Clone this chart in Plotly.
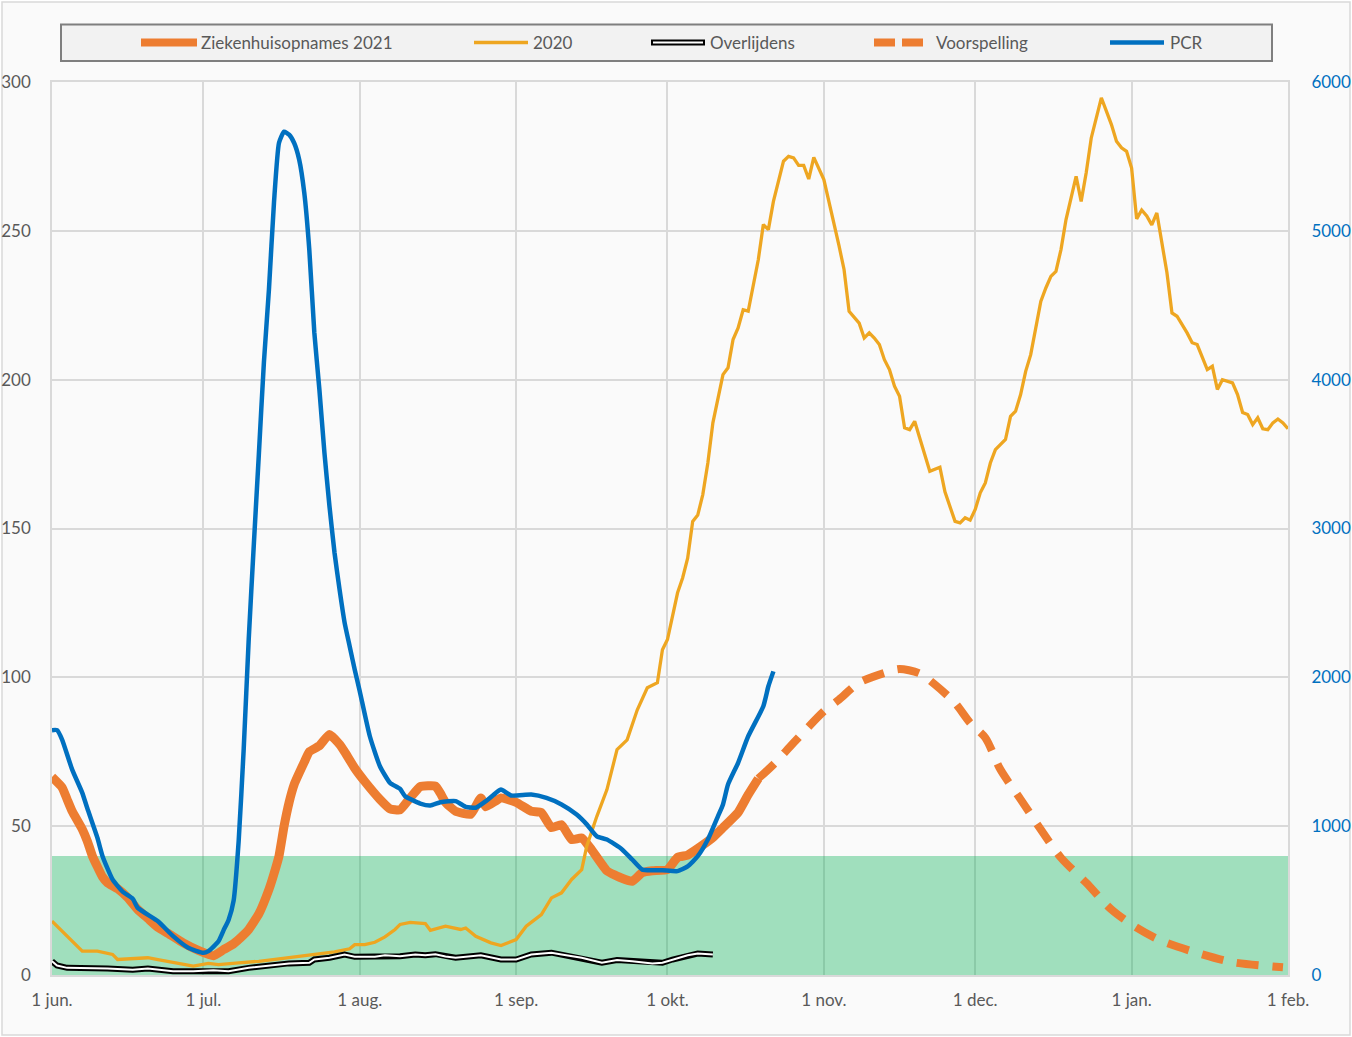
import pandas as pd
import plotly.graph_objects as go

# ---------------- data ----------------
START = pd.Timestamp("2021-06-01")
END = pd.Timestamp("2022-02-01")

tick_dates = ["2021-06-01", "2021-07-01", "2021-08-01", "2021-09-01", "2021-10-01",
              "2021-11-01", "2021-12-01", "2022-01-01", "2022-02-01"]
tick_labels = ["1 jun.", "1 jul.", "1 aug.", "1 sep.", "1 okt.", "1 nov.", "1 dec.", "1 jan.", "1 feb."]
left_ticks = [0, 50, 100, 150, 200, 250, 300]
right_ticks = [0, 1000, 2000, 3000, 4000, 5000, 6000]
green_zone_max = 40

series_names = ["Ziekenhuisopnames 2021", "2020", "Overlijdens", "Voorspelling", "PCR"]

# Ziekenhuisopnames 2021 (days after 1 June 2021)
zh_days = [0, 2, 3, 4, 6, 7, 8, 10, 11, 13, 15, 17, 19, 21, 23, 26, 29, 32, 34, 36,
           38, 39, 41, 43, 44, 45, 46, 47, 48, 50, 51, 53, 55, 57, 58, 60, 62, 65, 67, 69,
           71, 73, 76, 77, 78, 80, 83, 85, 86, 89, 92, 95, 97, 99, 101, 103, 105, 107, 110, 113,
           115, 117, 119, 122, 124, 126, 128, 131, 133, 136, 138, 140]
zh_vals = [66.5, 63, 59, 55, 49, 45, 40, 33, 31, 29, 26, 22, 19, 16, 14, 10.8, 8.3, 6.5, 8.5, 10.5,
           13.5, 15.3, 20.5, 28.7, 34, 40, 50, 58, 64, 71.5, 75, 77, 80.8, 77.5, 75, 69.5, 65, 59, 55.8, 55.5,
           59.5, 63.3, 63.5, 61, 58, 55, 54, 59.5, 56.5, 59.5, 58, 55, 54.6, 49.5, 50.5, 45.5, 46, 42, 35, 32.5,
           31.5, 34.4, 35, 35.4, 39.5, 40.3, 42.5, 46.2, 49.5, 54.6, 60.6, 66]

# 2020 (same calendar days, one year earlier)
y20_days = [0, 3, 5, 6, 9, 12, 13, 16, 19, 21, 25, 28, 31, 33, 37, 41, 45, 49, 53, 56,
            59, 60, 62, 64, 66, 68, 69, 71, 74, 75, 78, 81, 82, 84, 87, 89, 92, 94, 97, 99,
            101, 103, 105, 106, 108, 110, 112, 114, 116, 118, 120, 121, 122, 124, 125, 126, 127, 128, 129, 130,
            131, 133, 134, 135, 136, 137, 138, 139, 140, 141, 142, 143, 145, 146, 147, 148, 149, 150, 151, 153,
            154, 156, 157, 158, 160, 161, 162, 163, 164, 165, 166, 167, 168, 169, 170, 171, 172, 173, 174, 176,
            177, 179, 180, 181, 182, 183, 184, 185, 186, 187, 189, 190, 191, 192, 193, 194, 195, 196, 197, 198,
            199, 200, 201, 202, 203, 204, 205, 206, 208, 209, 210, 211, 212, 213, 214, 215, 216, 217, 218, 219,
            220, 221, 222, 223, 225, 226, 227, 228, 229, 230, 231, 232, 233, 234, 235, 236, 237, 238, 239, 240,
            241, 242, 243, 244, 245]
y20_vals = [18.1, 13, 9.7, 8, 8, 6.9, 5.2, 5.4, 5.8, 5.2, 4.1, 3, 3.9, 3.5, 4.1, 4.6, 5.4, 6.3, 7.2, 7.8,
            8.8, 10.2, 10.2, 11, 12.8, 15.3, 17, 17.7, 17.3, 15, 16.4, 15.3, 15.8, 13, 10.8, 9.9, 11.9, 16.4, 20.3, 25.9,
            27.6, 32.1, 35.4, 43.3, 53.3, 62.3, 75.7, 79, 89, 96.5, 98.2, 109.3, 112.7, 128.4, 133.4, 140, 152.4, 154.5, 161.4, 172,
            185.5, 201.7, 204, 213.5, 217.4, 223.5, 223, 231.4, 240.3, 252.1, 250.4, 259.9, 273.4, 275, 274.5, 272, 272, 267.4, 274.7, 267.2,
            260, 245, 237, 223, 219, 214, 215.7, 214, 211.8, 206.7, 203.4, 197.8, 194.4, 183.8, 183.2, 186, 180.4, 174.3, 169.2, 170.6,
            162.3, 152.4, 151.9, 153.6, 152.8, 156.4, 162, 165.3, 172, 176.5, 179.9, 187.7, 189.4, 195, 202.8, 208.4, 217.9, 226.3, 230.8, 234.7,
            236.4, 243.7, 253.8, 261.1, 268.3, 259.9, 269.5, 281.2, 294.7, 290.2, 285.7, 280.1, 277.9, 276.7, 271.1, 254, 257, 255, 252, 256,
            246, 236, 222.4, 221.3, 215.7, 212.4, 211.8, 207.3, 203.4, 204.5, 196.7, 200, 199.5, 198.9, 195, 189, 188.3, 184.9, 187.2, 183.5,
            183.2, 185.5, 186.8, 185.5, 183.5]

# Overlijdens
ov_days = [0, 1, 3, 6, 11, 16, 19, 24, 28, 32, 35, 39, 43, 47, 51, 52, 55, 58, 60, 64,
           66, 69, 72, 74, 76, 78, 80, 85, 89, 92, 95, 99, 101, 105, 109, 112, 115, 119, 121, 123,
           126, 128, 131]
ov_vals = [4.6, 3.2, 2.4, 2.4, 2.2, 1.8, 2.2, 1.3, 1.3, 1.6, 1.3, 2.4, 3.2, 3.9, 4.1, 5.2, 5.8, 6.9, 6.1, 6.1,
           6.6, 6.3, 6.9, 6.6, 7.0, 6.2, 5.8, 6.6, 5.2, 5.2, 6.9, 7.5, 6.9, 5.8, 4.1, 5.0, 4.6, 3.9, 4.1, 5.2,
           6.6, 7.2, 6.9]

# Voorspelling
vs_days = [140, 143, 147, 153, 156, 160, 166, 168, 172, 175, 179, 182, 185, 188, 192, 196, 200, 205, 210, 215,
           220, 228, 234, 244]
vs_vals = [66, 70.7, 78, 88.6, 92.5, 98.2, 102, 102.8, 101.3, 97.6, 91.4, 84.7, 79.7, 69, 59, 48.9, 39.4, 31, 22, 15.9,
           11.4, 6.9, 4.3, 2.6]

# PCR (right axis)
pcr_days = [0, 1, 2, 4, 6, 7, 9, 10, 12, 14, 16, 17, 21, 24, 27, 30, 31, 33, 34, 35,
            36, 37, 38, 39, 40, 41, 42, 43, 44, 45, 46, 47, 48, 49, 50, 51, 52, 53, 54, 55,
            56, 57, 58, 59, 60, 61, 63, 65, 67, 69, 70, 73, 75, 77, 80, 82, 84, 86, 88, 89,
            91, 95, 98, 101, 104, 106, 108, 110, 113, 115, 117, 119, 121, 124, 126, 128, 130, 132, 133, 134,
            136, 138, 141, 142, 143]
pcr_vals = [1645, 1645, 1582, 1380, 1224, 1120, 922, 800, 642, 560, 512, 451, 361, 261, 183, 149, 160, 227, 300, 370,
            500, 900, 1520, 2260, 2890, 3497, 4115, 4605, 5190, 5592, 5666, 5646, 5590, 5478, 5257, 4874, 4316, 3934, 3510, 3150,
            2838, 2590, 2368, 2209, 2052, 1907, 1604, 1403, 1291, 1250, 1201, 1152, 1139, 1161, 1168, 1130, 1124, 1168, 1224, 1246,
            1206, 1212, 1190, 1146, 1078, 1012, 932, 910, 844, 776, 708, 704, 704, 698, 730, 798, 910, 1066, 1146, 1280,
            1426, 1604, 1806, 1940, 2040]

for a, b in [(zh_days, zh_vals), (y20_days, y20_vals), (ov_days, ov_vals), (vs_days, vs_vals), (pcr_days, pcr_vals)]:
    if len(a) != len(b):
        raise ValueError("length mismatch %d %d" % (len(a), len(b)))


def to_dates(days):
    return START + pd.to_timedelta(days, unit="D")


# ---------------- style ----------------
ORANGE = "#ED7D31"
GOLD = "#EEA621"
BLUE = "#0070C0"
GRID = "#D9D9D9"
TXT = "#595959"
FONT = "Lato, Carlito, Calibri, sans-serif"
FS = 17

W, H = 1352, 1037
ML, MR, MT, MB = 52, 64, 82, 62
PW, PH = W - ML - MR, H - MT - MB


def px(x):
    return (x - ML) / PW


def py(y):
    return (H - MB - y) / PH


fig = go.Figure()
fig.add_trace(go.Scatter(x=to_dates(zh_days), y=zh_vals, mode="lines", name=series_names[0],
                         line=dict(color=ORANGE, width=9, shape="spline", smoothing=0.4)))
fig.add_trace(go.Scatter(x=to_dates(y20_days), y=y20_vals, mode="lines", name=series_names[1],
                         line=dict(color=GOLD, width=3.3)))
fig.add_trace(go.Scatter(x=to_dates(ov_days), y=ov_vals, mode="lines", name=series_names[2],
                         line=dict(color="black", width=6)))
fig.add_trace(go.Scatter(x=to_dates(ov_days), y=ov_vals, mode="lines", name=series_names[2],
                         line=dict(color="white", width=2)))
fig.add_trace(go.Scatter(x=to_dates(vs_days), y=vs_vals, mode="lines", name=series_names[3],
                         line=dict(color=ORANGE, width=8, dash="22px,14px", shape="spline", smoothing=0.8)))
fig.add_trace(go.Scatter(x=to_dates(pcr_days), y=pcr_vals, mode="lines", name=series_names[4], yaxis="y2",
                         line=dict(color=BLUE, width=4.5, shape="spline", smoothing=0.5)))

shapes = [
    # chart frame
    dict(type="rect", xref="paper", yref="paper", x0=px(2), x1=px(1350), y0=py(1035), y1=py(2),
         fillcolor="#FAFAFA", line=dict(color=GRID, width=1.5), layer="below"),
    # green zone
    dict(type="rect", xref="x", yref="y", x0=START, x1=END, y0=0, y1=green_zone_max,
         fillcolor="rgba(0,176,80,0.36)", line=dict(width=0), layer="between"),
    # legend box
    dict(type="rect", xref="paper", yref="paper", x0=px(61), x1=px(1272), y0=py(61), y1=py(24.5),
         fillcolor="#F2F2F2", line=dict(color="#7F7F7F", width=2), layer="below"),
]

LY = py(42.5)
# legend samples
shapes += [
    dict(type="line", xref="paper", yref="paper", x0=px(141), x1=px(197), y0=LY, y1=LY,
         line=dict(color=ORANGE, width=8), layer="above"),
    dict(type="line", xref="paper", yref="paper", x0=px(474), x1=px(528), y0=LY, y1=LY,
         line=dict(color=GOLD, width=3.5), layer="above"),
    dict(type="line", xref="paper", yref="paper", x0=px(651), x1=px(705), y0=LY, y1=LY,
         line=dict(color="black", width=6), layer="above"),
    dict(type="line", xref="paper", yref="paper", x0=px(653), x1=px(703), y0=LY, y1=LY,
         line=dict(color="white", width=2), layer="above"),
    dict(type="line", xref="paper", yref="paper", x0=px(874), x1=px(895), y0=LY, y1=LY,
         line=dict(color=ORANGE, width=8), layer="above"),
    dict(type="line", xref="paper", yref="paper", x0=px(902), x1=px(923), y0=LY, y1=LY,
         line=dict(color=ORANGE, width=8), layer="above"),
    dict(type="line", xref="paper", yref="paper", x0=px(1110), x1=px(1164), y0=LY, y1=LY,
         line=dict(color=BLUE, width=4.5), layer="above"),
]

text_x = [200, 532, 709, 935, 1169]
annotations = [dict(xref="paper", yref="paper", x=px(tx), y=LY, text=name, showarrow=False,
                    xanchor="left", yanchor="middle", font=dict(family=FONT, size=FS, color=TXT), borderpad=0)
               for tx, name in zip(text_x, series_names)]

fig.update_layout(
    width=W, height=H,
    margin=dict(l=ML, r=MR, t=MT, b=MB, pad=0, autoexpand=False),
    paper_bgcolor="white", plot_bgcolor="rgba(0,0,0,0)",
    font=dict(family=FONT, size=FS, color=TXT),
    showlegend=False,
    shapes=shapes,
    annotations=annotations,
    xaxis=dict(type="date", range=[START, END], tickmode="array", tickvals=tick_dates, ticktext=tick_labels,
               showgrid=True, gridcolor=GRID, gridwidth=1.5, showline=True, linecolor=GRID, linewidth=1.5,
               mirror=True, ticks="outside", ticklen=9, tickcolor="rgba(0,0,0,0)", zeroline=False,
               automargin=False, tickfont=dict(family=FONT, size=FS, color=TXT)),
    yaxis=dict(range=[0, 300], tickmode="array", tickvals=left_ticks, showgrid=True, gridcolor=GRID,
               gridwidth=1.5, showline=True, linecolor=GRID, linewidth=1.5, mirror=True, ticks="outside",
               ticklen=16, tickcolor="rgba(0,0,0,0)", zeroline=False, automargin=False,
               tickfont=dict(family=FONT, size=FS, color=TXT)),
    yaxis2=dict(range=[0, 6000], overlaying="y", side="right", tickmode="array", tickvals=right_ticks,
                showgrid=False, showline=False, zeroline=False, ticks="outside", ticklen=19, automargin=False,
                tickcolor="rgba(0,0,0,0)", tickfont=dict(family=FONT, size=FS, color=BLUE)),
)

fig.write_html("out.html")
